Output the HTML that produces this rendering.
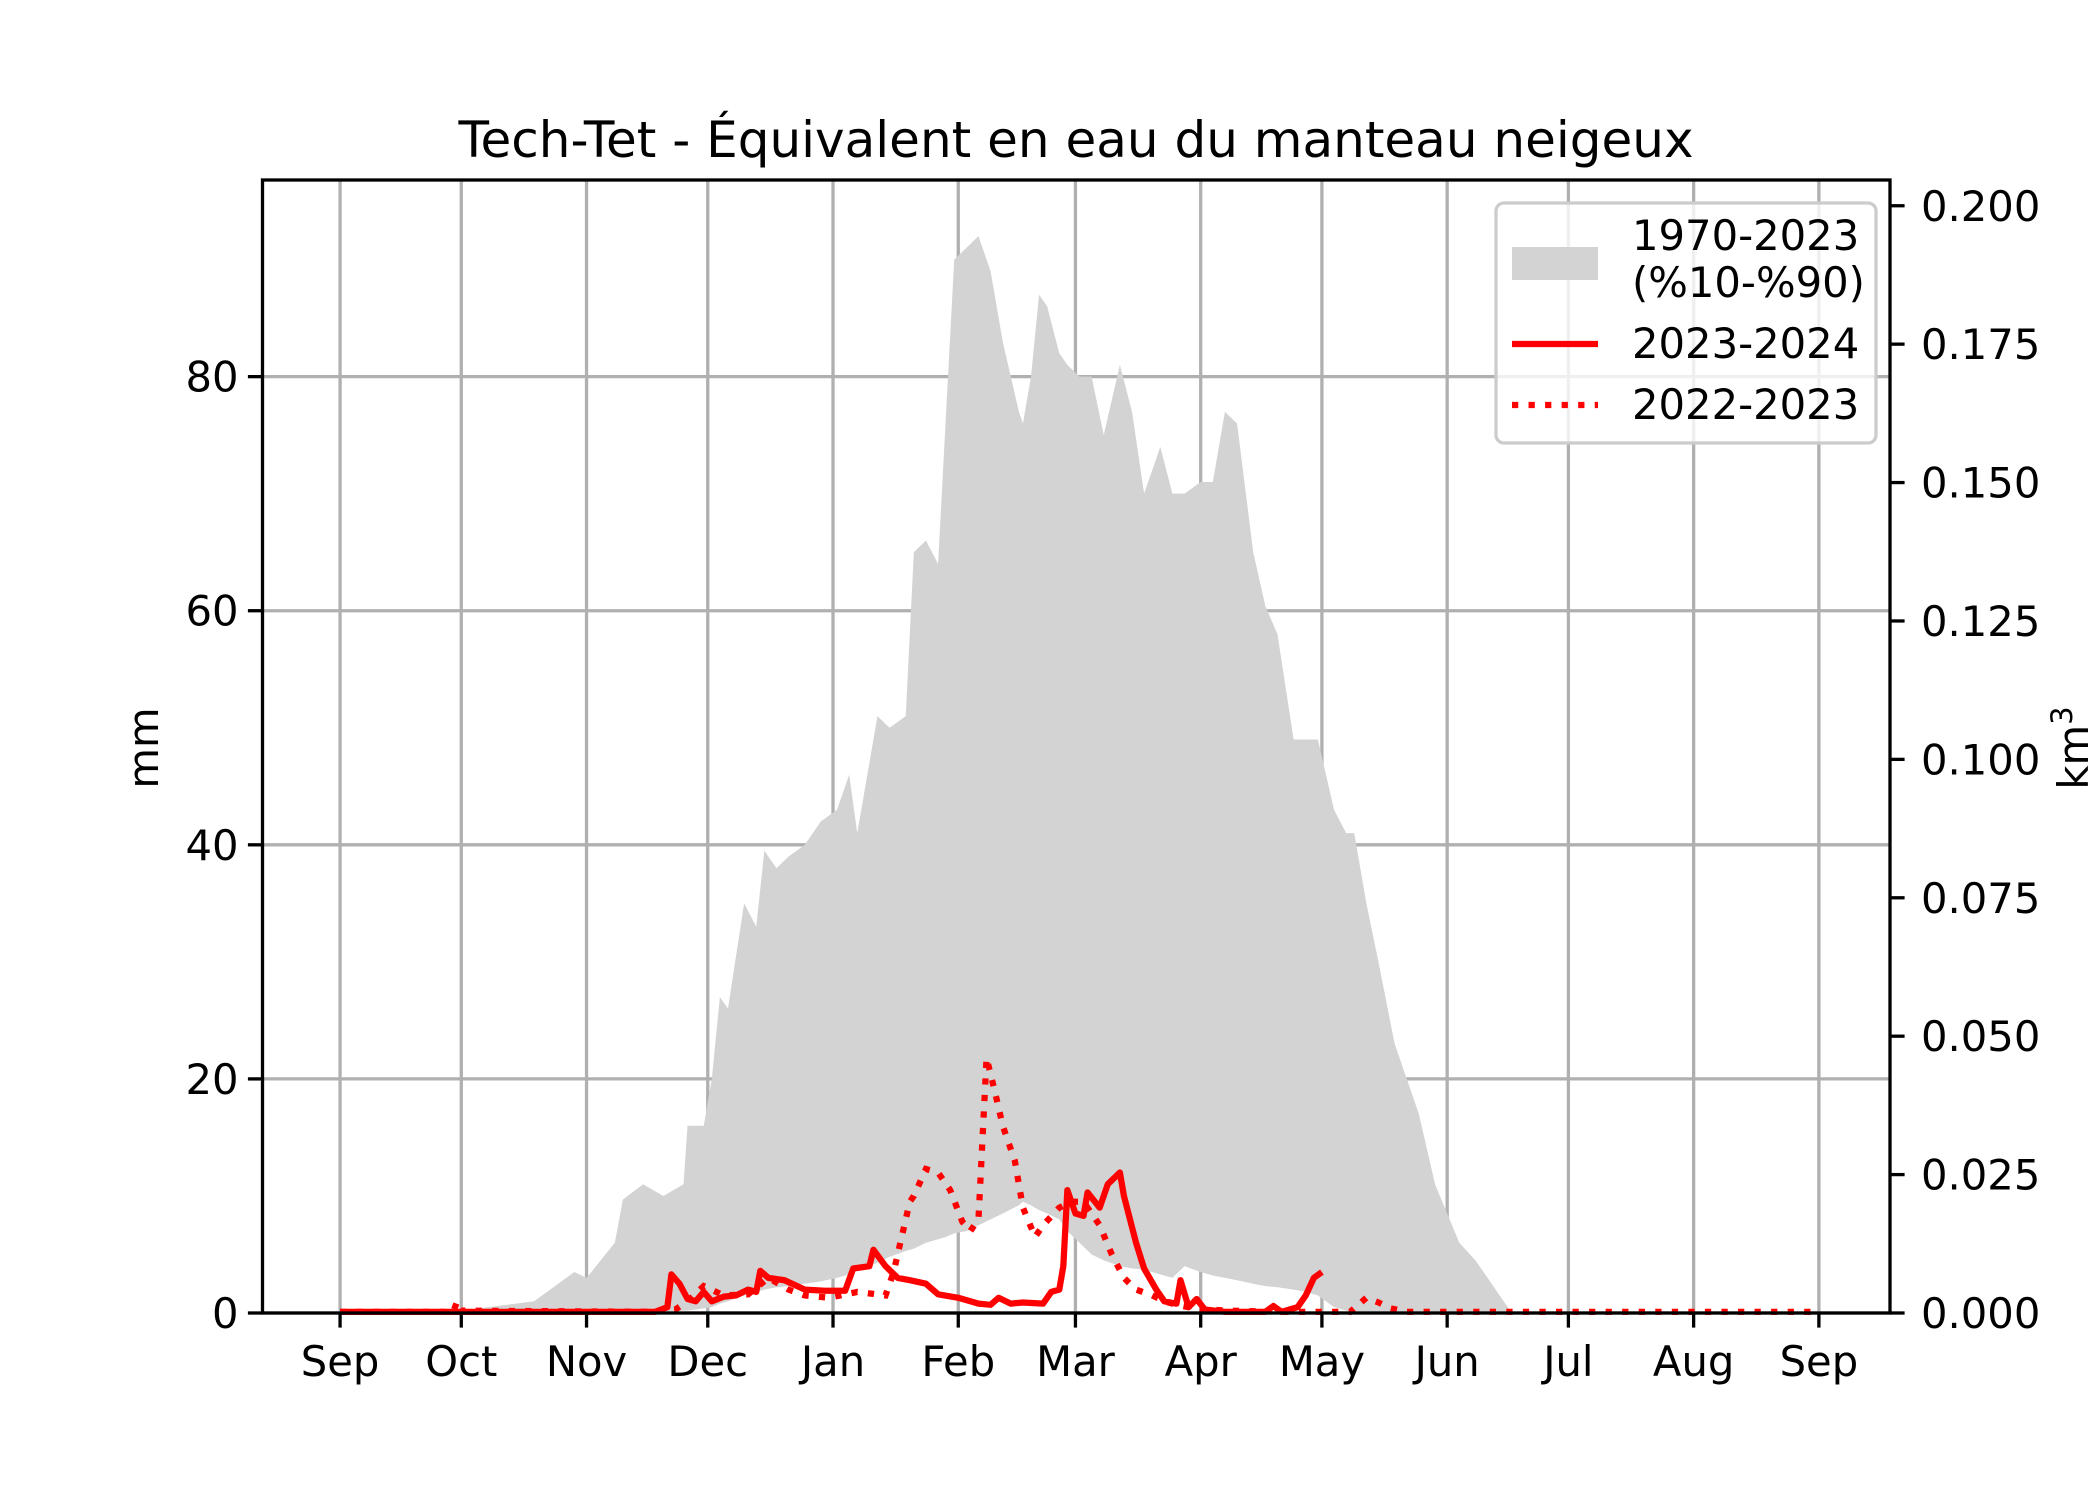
<!DOCTYPE html>
<html><head><meta charset="utf-8"><style>
html,body{margin:0;padding:0;background:#fff}
svg{display:block}
text{font-family:"DejaVu Sans","Liberation Sans",sans-serif;fill:#000}
</style></head><body>
<svg id="chart" width="2100" height="1500" viewBox="0 0 2100 1500" xmlns="http://www.w3.org/2000/svg">
<text x="1076" y="157" font-size="50" text-anchor="middle">Tech-Tet - Équivalent en eau du manteau neigeux</text>
<g id="grid"></g>
<g id="band"></g>
<g id="lines"></g>
<rect x="262.5" y="180" width="1627.5" height="1133" fill="none" stroke="#000" stroke-width="3.3"/>
<g id="axes"></g>
<text transform="translate(158,748) rotate(-90)" font-size="41.7" text-anchor="middle">mm</text>
<text transform="translate(2088,748) rotate(-90)" font-size="41.7" text-anchor="middle">km<tspan font-size="29" dy="-16">3</tspan></text>
<g>
<rect x="1496" y="203" width="380" height="240" rx="8" fill="#fff" fill-opacity="0.8" stroke="#ccc" stroke-width="3.3"/>
<rect x="1512" y="247" width="86" height="33" fill="#d3d3d3"/>
<text x="1632" y="250" font-size="41.7">1970-2023</text>
<text x="1632" y="297" font-size="41.7">(%10-%90)</text>
<line x1="1512" y1="344" x2="1598" y2="344" stroke="#f00" stroke-width="6.25"/>
<text x="1632" y="358" font-size="41.7">2023-2024</text>
<line x1="1512" y1="405" x2="1598" y2="405" stroke="#f00" stroke-width="6.25" stroke-dasharray="6.25,10.3"/>
<text x="1632" y="419" font-size="41.7">2022-2023</text>
</g>
</svg>
<script>
const monthLabels=["Sep","Oct","Nov","Dec","Jan","Feb","Mar","Apr","May","Jun","Jul","Aug","Sep"];
const monthDays=[0,30,61,91,122,153,182,213,243,274,304,335,366];
const yTicks=[0,20,40,60,80];
const y2Ticks=["0.000","0.025","0.050","0.075","0.100","0.125","0.150","0.175","0.200"];
const bandDays=[0,30,48,58,61,68,70,75,80,85,86,90,92,94,96,100,103,105,108,111,115,119,123,126,128,131,133,136,140,142,145,148,150,152,155,158,161,164,168,169,171,173,175,178,180,183,186,189,193,196,199,203,206,209,213,216,219,222,226,229,232,236,239,242,246,249,251,254,257,261,264,267,271,274,277,281,284,287,290,366];
const bandHigh=[0,0.2,1,3.5,3,6,9.7,11,10,11,16,16,20,27,26,35,33,39.5,38,39,40,42,43,46,41,47,51,50,51,65,66,64,77,90,91,92,89,83,77,76,80,87,86,82,81,80,80,75,81,77,70,74,70,70,71,71,77,76,65,60.4,58,49,49,49,43,41,41,35,30,23,20,17,11,8.5,6,4.5,3,1.5,0,0];
const bandLow=[0,0,0,0,0,0,0,0,0.1,0.2,0.2,0.4,0.5,0.8,1,1.5,1.8,2,2.2,2.3,2.5,2.7,3,3.3,3.6,4,4.3,4.8,5.3,5.5,6,6.3,6.5,6.8,7,7.5,8,8.5,9.2,9.5,9.2,8.8,8.5,8,7,6,5,4.5,4,3.8,3.7,3.3,3,4,3.5,3.2,3,2.8,2.5,2.3,2.2,2,1.8,1.5,0.5,0.2,0,0,0,0,0,0,0,0,0,0,0,0,0,0];
const days2324=[0,78,81,82,84,86,88,90,92,95,98,101,103,104,106,110,115,120,125,127,131,132,135,138,141,145,148,153,158,161,163,166,169,174,176,178,179,180,182,184,185,188,190,193,194,197,199,202,204,207,208,210,212,214,219,229,231,233,237,239,241,243];
const vals2324=[0.1,0.1,0.5,3.3,2.5,1.2,1,1.8,1,1.4,1.5,2,1.8,3.6,3,2.8,2,1.9,1.9,3.8,4,5.4,4,3,2.8,2.5,1.6,1.3,0.8,0.7,1.3,0.8,0.9,0.8,1.8,2,4,10.5,8.5,8.3,10.3,9,11,12,10,6,3.8,2,1,0.8,2.8,0.5,1.2,0.3,0.1,0.1,0.6,0.1,0.5,1.5,3,3.5];
const days2223=[0,28,29,30,78,83,86,90,95,101,106,111,115,121,128,135,137,141,142,145,148,151,154,156,158,160,162,164,167,169,172,174,178,181,184,188,191,194,197,201,204,207,210,214,220,234,250,254,257,260,264,366];
const vals2223=[0.1,0.1,1,0.2,0.1,0.3,1,2.3,1.5,1.6,3,2,1.5,1.3,1.8,1.5,3.5,9.5,10,12.3,12,10.5,7.8,7,8,21.8,19,16,13,9,6.5,7.5,9,9.5,9.5,7.5,5,3,2,1.5,1,0.7,0.5,0.3,0.2,0.1,0.1,1.3,0.9,0.4,0.1,0.1];

const L=262.5,R=1890,T=180,B=1313;
const xMin=-19.2,xMax=383.6,yMax=96.8,km3PerMm=0.2/94.6;
const X=d=>L+(d-xMin)/(xMax-xMin)*(R-L);
const Y=v=>B-v/yMax*(B-T);
const NS="http://www.w3.org/2000/svg";
function mk(tag,attrs,parent,txt){const e=document.createElementNS(NS,tag);for(const k in attrs)e.setAttribute(k,attrs[k]);if(txt!==undefined)e.textContent=txt;parent.appendChild(e);return e;}
const grid=document.getElementById('grid'),axes=document.getElementById('axes'),band=document.getElementById('band'),lines=document.getElementById('lines');
monthDays.forEach((d,i)=>{
 const g=mk('line',{x1:X(d),x2:X(d),y1:T,y2:B,stroke:'#b0b0b0','stroke-width':3.3},grid);
 
 
 const t=mk('line',{x1:X(d),x2:X(d),y1:B,y2:B+14.6,stroke:'#000','stroke-width':3.3},axes);
 
 
 const l=mk('text',{x:X(d),y:B+63,'font-size':41.7,'text-anchor':'middle'},axes,monthLabels[i]);
 
 
});
yTicks.forEach(v=>{
 const g=mk('line',{x1:L,x2:R,y1:Y(v),y2:Y(v),stroke:'#b0b0b0','stroke-width':3.3},grid);
 
 
 const t=mk('line',{x1:L-14.6,x2:L,y1:Y(v),y2:Y(v),stroke:'#000','stroke-width':3.3},axes);
 
 
 const l=mk('text',{x:L-24,y:Y(v)+15,'font-size':41.7,'text-anchor':'end'},axes,String(v));
 
 
});
y2Ticks.forEach(s=>{
 const y=Y(parseFloat(s)/km3PerMm);
 const t=mk('line',{x1:R,x2:R+14.6,y1:y,y2:y,stroke:'#000','stroke-width':3.3},axes);
 
 
 const l=mk('text',{x:R+31,y:y+15,'font-size':41.7},axes,s);
 
 
});
let pts=bandDays.map((d,i)=>X(d)+','+Y(bandHigh[i]));
for(let i=bandDays.length-1;i>=0;i--)pts.push(X(bandDays[i])+','+Y(bandLow[i]));
const poly=mk('polygon',{points:pts.join(' '),fill:'#d3d3d3'},band);


const p1=mk('polyline',{points:days2223.map((d,i)=>X(d)+','+Y(vals2223[i])).join(' '),fill:'none',stroke:'#f00','stroke-width':6.25,'stroke-dasharray':'6.25,10.3'},lines);


const p2=mk('polyline',{points:days2324.map((d,i)=>X(d)+','+Y(vals2324[i])).join(' '),fill:'none',stroke:'#f00','stroke-width':6.25,'stroke-linejoin':'round'},lines);


</script>
</body></html>
